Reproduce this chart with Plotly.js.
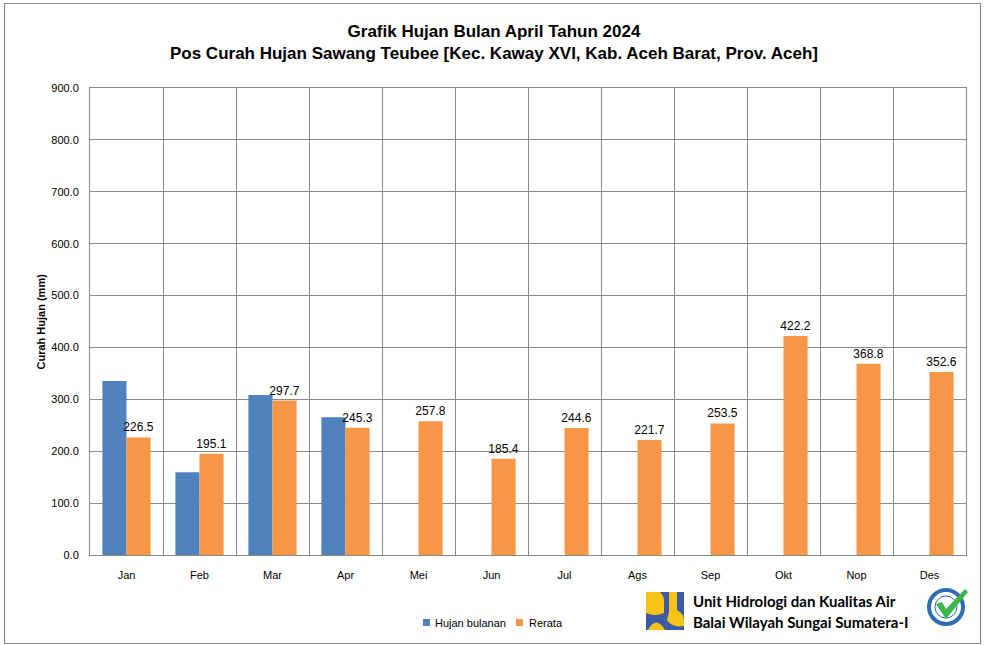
<!DOCTYPE html>
<html>
<head>
<meta charset="utf-8">
<script src="https://cdn.plot.ly/plotly-3.0.1.min.js"></script>
<style>html,body{margin:0;padding:0;background:#fff;}#chart{width:984px;height:645px;}</style>
</head>
<body>
<div id="chart"></div>
<script>
const months = ["Jan","Feb","Mar","Apr","Mei","Jun","Jul","Ags","Sep","Okt","Nop","Des"];
const hujanBulanan = [335.5, 159.5, 308.5, 265.5, null, null, null, null, null, null, null, null];
const rerata = [226.5, 195.1, 297.7, 245.3, 257.8, 185.4, 244.6, 221.7, 253.5, 422.2, 368.8, 352.6];
const seriesNames = ["Hujan bulanan", "Rerata"];
const seriesColors = ["#4F81BD", "#F79646"];

const W = 984, H = 645;
const M = {l: 90, r: 18, t: 88, b: 90};
const PW = W - M.l - M.r, PH = H - M.t - M.b;
const px = x => (x - M.l) / PW;
const py = y => (H - M.b - y) / PH;

const font = "Liberation Sans, Arial, sans-serif";

const traces = [
  {type: "bar", name: seriesNames[0], x: months, y: hujanBulanan,
   marker: {color: seriesColors[0]}, hoverinfo: "x+y", showlegend: false},
  {type: "bar", name: seriesNames[1], x: months, y: rerata,
   marker: {color: seriesColors[1]}, text: rerata.map(v => v.toFixed(1)),
   textposition: "outside", cliponaxis: false, constraintext: "none",
   textfont: {family: font, size: 12, color: "#000"}, hoverinfo: "x+y", showlegend: false}
];

const shapes = [
  // outer chart border
  {type: "rect", xref: "paper", yref: "paper", x0: px(4.5), x1: px(980.5), y0: py(643.5), y1: py(3.5),
   line: {color: "#8c8c8c", width: 1.2}, fillcolor: "rgba(0,0,0,0)", layer: "below"},
  // legend swatches
  {type: "rect", xref: "paper", yref: "paper", x0: px(423), x1: px(430), y0: py(626), y1: py(619),
   line: {width: 0}, fillcolor: seriesColors[0]},
  {type: "rect", xref: "paper", yref: "paper", x0: px(516), x1: px(523), y0: py(626), y1: py(619),
   line: {width: 0}, fillcolor: seriesColors[1]},
  // logo: blue background
  {type: "rect", xref: "paper", yref: "paper", x0: px(646), x1: px(684), y0: py(630), y1: py(592),
   line: {width: 0}, fillcolor: "#3C5AA6"},
  // logo yellow upper-left block
  {type: "path", xref: "paper", yref: "paper",
   path: `M ${px(646)} ${py(592)} L ${px(660)} ${py(592)} Q ${px(664)} ${py(596)} ${px(664)} ${py(600)} L ${px(664)} ${py(613)} Q ${px(655)} ${py(617)} ${px(646)} ${py(613)} Z`,
   line: {width: 0}, fillcolor: "#F6C417"},
  // logo yellow lower half-circle
  {type: "path", xref: "paper", yref: "paper",
   path: `M ${px(648)} ${py(630)} Q ${px(656)} ${py(615)} ${px(665)} ${py(630)} Z`,
   line: {width: 0}, fillcolor: "#F6C417"},
  // logo yellow right U
  {type: "path", xref: "paper", yref: "paper",
   path: `M ${px(669)} ${py(592)} L ${px(677)} ${py(592)} L ${px(677)} ${py(610)} Q ${px(684)} ${py(614)} ${px(684)} ${py(620)} L ${px(684)} ${py(626)} Q ${px(672)} ${py(628)} ${px(667)} ${py(620)} L ${px(669)} ${py(612)} Z`,
   line: {width: 0}, fillcolor: "#F6C417"},
  // badge ring
  {type: "circle", xref: "paper", yref: "paper", x0: px(929), x1: px(963), y0: py(624), y1: py(590),
   line: {color: "#2F6DB5", width: 4}, fillcolor: "#ffffff"},
  {type: "circle", xref: "paper", yref: "paper", x0: px(935), x1: px(957), y0: py(618), y1: py(596),
   line: {color: "#2F6DB5", width: 1}, fillcolor: "rgba(0,0,0,0)"},
  // badge check
  {type: "path", xref: "paper", yref: "paper",
   path: `M ${px(936)} ${py(604)} L ${px(942)} ${py(602)} L ${px(946)} ${py(609)} L ${px(965)} ${py(589)} L ${px(968)} ${py(592)} L ${px(946)} ${py(619)} Z`,
   line: {width: 0}, fillcolor: "#3DB54A"}
];

const annotations = [
  {xref: "paper", yref: "paper", x: px(433), y: py(622.5), xanchor: "left", yanchor: "middle",
   text: seriesNames[0], showarrow: false, font: {family: font, size: 11, color: "#000"}},
  {xref: "paper", yref: "paper", x: px(527), y: py(622.5), xanchor: "left", yanchor: "middle",
   text: seriesNames[1], showarrow: false, font: {family: font, size: 11, color: "#000"}},
  {xref: "paper", yref: "paper", x: px(691), y: py(601), xanchor: "left", yanchor: "middle",
   text: "<b>Unit Hidrologi dan Kualitas Air</b>", showarrow: false,
   font: {family: "Lato, Open Sans, sans-serif", size: 15, color: "#000"}},
  {xref: "paper", yref: "paper", x: px(691), y: py(622), xanchor: "left", yanchor: "middle",
   text: "<b>Balai Wilayah Sungai Sumatera-I</b>", showarrow: false,
   font: {family: "Lato, Open Sans, sans-serif", size: 15, color: "#000"}},
  {xref: "paper", yref: "paper", x: px(40), y: 0.5, xanchor: "center", yanchor: "middle",
   text: "<b>Curah Hujan (mm)</b>", textangle: -90, showarrow: false,
   font: {family: font, size: 11, color: "#000"}}
];

const layout = {
  width: W, height: H,
  margin: M,
  paper_bgcolor: "#fff", plot_bgcolor: "#fff",
  title: {text: "<b>Grafik Hujan Bulan April Tahun 2024<br>Pos Curah Hujan Sawang Teubee [Kec. Kaway XVI, Kab. Aceh Barat, Prov. Aceh]</b>",
          font: {family: font, size: 17, color: "#000"}, x: px(494), xanchor: "center", xref: "paper",
          y: 1 - 37 / H, yref: "container", yanchor: "middle"},
  barmode: "group", bargap: 0.34, bargroupgap: 0,
  showlegend: false,
  xaxis: {type: "category", tickson: "boundaries", showgrid: true, gridcolor: "#8a8a8a", gridwidth: 1,
          showline: true, linecolor: "#8a8a8a", mirror: true, ticks: "", ticklen: 0, ticklabelstandoff: 10,
          tickfont: {family: font, size: 11, color: "#000"}, automargin: false, fixedrange: true},
  yaxis: {range: [0, 900], dtick: 100, tickformat: ".1f", showgrid: true, gridcolor: "#8a8a8a", gridwidth: 1,
          showline: true, linecolor: "#8a8a8a", mirror: true, ticks: "", zeroline: false, ticklabelstandoff: 8,
          tickfont: {family: font, size: 11, color: "#000"}, automargin: false, fixedrange: true},
  shapes: shapes,
  annotations: annotations
};

Plotly.newPlot("chart", traces, layout, {displayModeBar: false, staticPlot: true});
</script>
</body>
</html>
